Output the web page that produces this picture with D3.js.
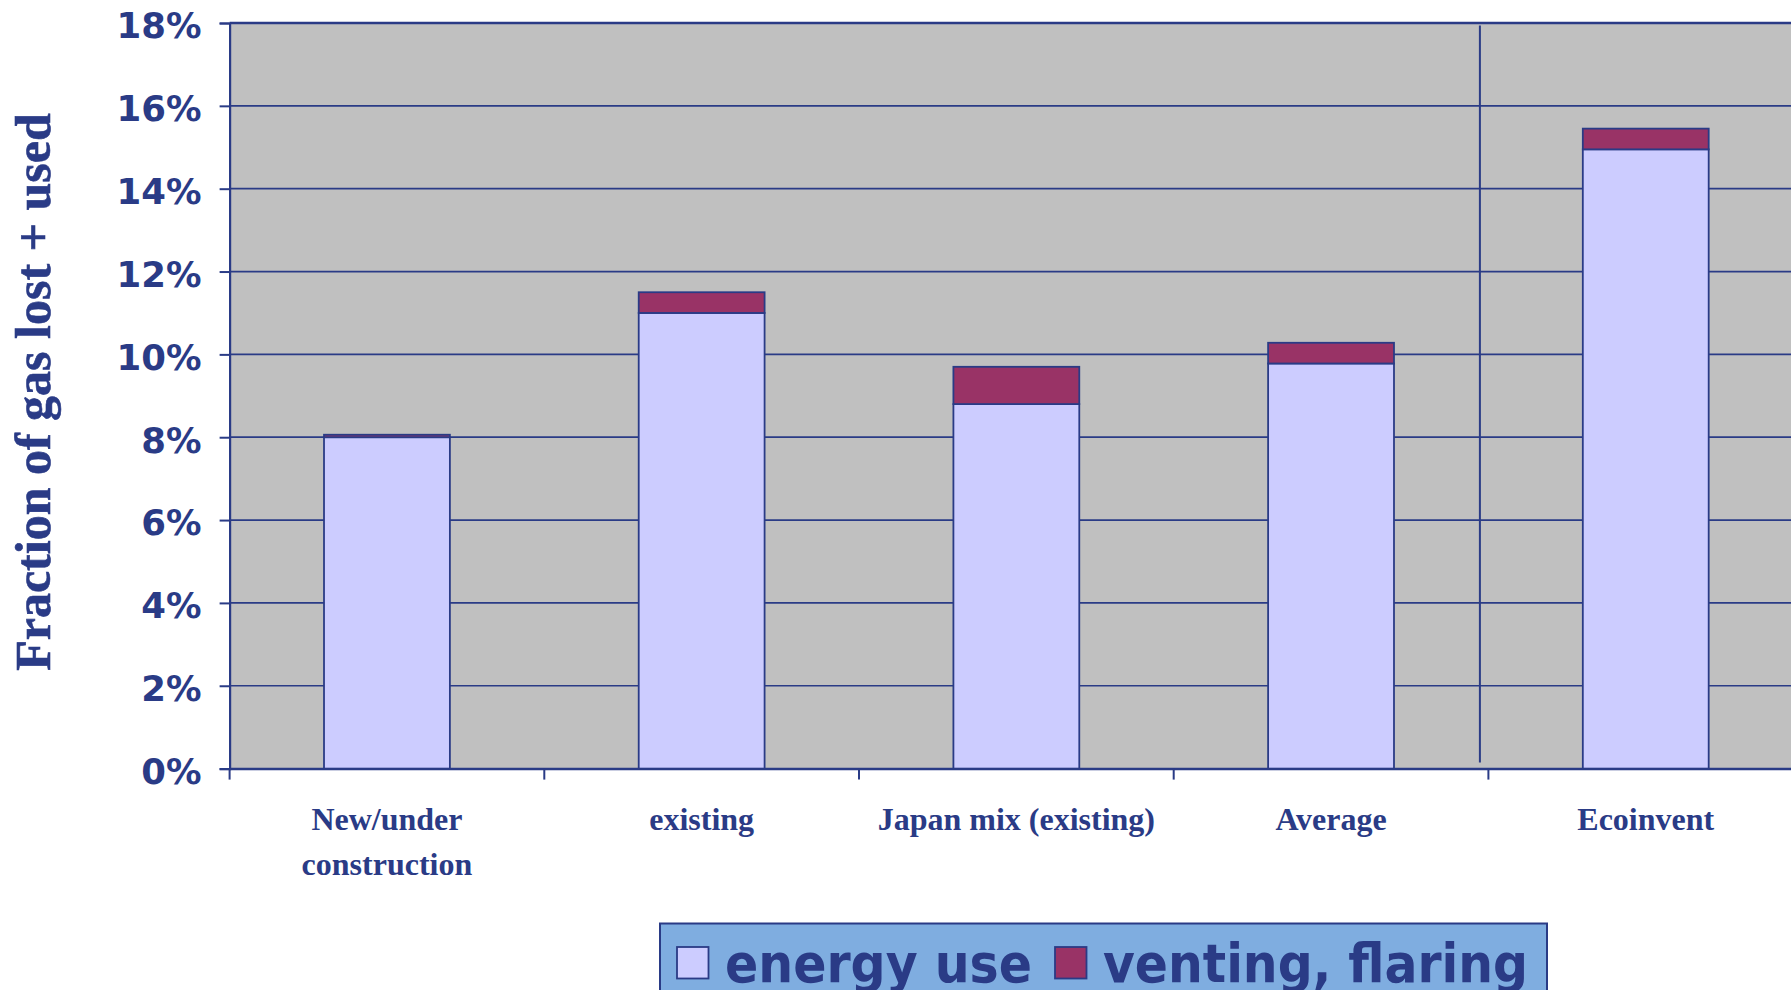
<!DOCTYPE html>
<html>
<head>
<meta charset="utf-8">
<script src="https://cdn.jsdelivr.net/npm/d3@7/dist/d3.min.js"></script>
<style>
  html, body { margin: 0; padding: 0; background: #ffffff; overflow: hidden; }
  svg { display: block; }
</style>
</head>
<body>
<svg id="chart" width="1791" height="990"></svg>
<script>
// ---- data ----
const categories = ["New/under\nconstruction", "existing", "Japan mix (existing)", "Average", "Ecoinvent"];
const energyUse = [8.0, 11.0, 8.8, 9.78, 14.95];
const ventingFlaring = [0.06, 0.5, 0.9, 0.5, 0.5];
const seriesNames = ["energy use", "venting, flaring"];
const yTicks = [0, 2, 4, 6, 8, 10, 12, 14, 16, 18];
const yTitle = "Fraction of gas lost + used";

// ---- styles ----
const navy = "#2a3b86";
const plotBg = "#c0c0c0";
const colors = ["#ccccff", "#993366"];
const legendBg = "#7fade0";

const plotLeft = 229.6, plotTop = 23, plotBottom = 768.6, bandW = 314.7;
const plotRight = plotLeft + categories.length * bandW;

const svg = d3.select("#chart");

const x = d3.scaleBand().domain(categories).range([plotLeft, plotRight]).padding(0);
const y = d3.scaleLinear().domain([0, 18]).range([plotBottom, plotTop]);

// plot background
svg.append("rect")
  .attr("x", plotLeft).attr("y", y(18))
  .attr("width", plotRight - plotLeft).attr("height", y(0) - y(18))
  .attr("fill", plotBg);

// gridlines
svg.append("g").selectAll("line").data(yTicks).join("line")
  .attr("x1", plotLeft).attr("x2", plotRight)
  .attr("y1", d => y(d)).attr("y2", d => y(d))
  .attr("stroke", navy)
  .attr("stroke-width", d => d === 18 ? 2.6 : 1.7);

// vertical separator before the last category
const sepX = x(categories[4]) - 8.5;
svg.append("line")
  .attr("x1", sepX).attr("x2", sepX)
  .attr("y1", y(18) + 2.5).attr("y2", y(0) - 6)
  .attr("stroke", navy).attr("stroke-width", 2);

// stacked bars
const stackData = categories.map((c, i) => ({ cat: c, e: energyUse[i], v: ventingFlaring[i] }));
const stacked = d3.stack().keys(["e", "v"])(stackData);
const barW = x.bandwidth() * 0.4;
svg.append("g").selectAll("g").data(stacked).join("g")
  .attr("fill", (d, i) => colors[i])
  .selectAll("rect").data(d => d).join("rect")
  .attr("x", d => x(d.data.cat) + (x.bandwidth() - barW) / 2)
  .attr("y", d => y(d[1]))
  .attr("width", barW)
  .attr("height", d => y(d[0]) - y(d[1]))
  .attr("stroke", navy).attr("stroke-width", 1.8);

// y axis
const yAxis = d3.axisLeft(y).tickValues(yTicks).tickSize(10).tickPadding(18)
  .tickFormat(d => d + "%");
const gy = svg.append("g").attr("transform", `translate(${plotLeft},0)`).call(yAxis);
gy.select(".domain").attr("stroke", navy).attr("stroke-width", 2.2);
gy.selectAll(".tick line").attr("stroke", navy).attr("stroke-width", 2);
gy.selectAll(".tick text")
  .attr("fill", navy)
  .attr("font-family", "'DejaVu Sans', Verdana, sans-serif")
  .attr("font-weight", "bold")
  .attr("font-size", 35.5)
  .attr("dy", "0.42em");

// x axis
const xAxis = d3.axisBottom(x).tickSize(0).tickFormat("");
const gx = svg.append("g").attr("transform", `translate(0,${plotBottom})`).call(xAxis);
gx.select(".domain").attr("stroke", navy).attr("stroke-width", 2.2);
// boundary ticks
const boundaries = categories.map(c => x(c)).concat([plotRight]);
svg.append("g").selectAll("line").data(boundaries).join("line")
  .attr("x1", d => d).attr("x2", d => d)
  .attr("y1", plotBottom).attr("y2", plotBottom + 11)
  .attr("stroke", navy).attr("stroke-width", 2);

// category labels
const lbl = svg.append("g").selectAll("text").data(categories).join("text")
  .attr("x", d => x(d) + x.bandwidth() / 2)
  .attr("y", 830)
  .attr("text-anchor", "middle")
  .attr("fill", navy)
  .attr("font-family", "'Liberation Serif', 'Times New Roman', serif")
  .attr("font-weight", "bold")
  .attr("font-size", 32);
lbl.selectAll("tspan").data(d => d.split("\n").map(t => ({ t, c: d }))).join("tspan")
  .attr("x", d => x(d.c) + x.bandwidth() / 2)
  .attr("dy", (d, i) => i === 0 ? 0 : 44.5)
  .text(d => d.t);

// y title
svg.append("text")
  .attr("transform", `translate(50,392) rotate(-90)`)
  .attr("text-anchor", "middle")
  .attr("fill", navy)
  .attr("font-family", "'Liberation Serif', 'Times New Roman', serif")
  .attr("font-weight", "bold")
  .attr("font-size", 50)
  .attr("stroke", navy).attr("stroke-width", 0.6)
  .text(yTitle);

// legend
const lg = svg.append("g");
lg.append("rect")
  .attr("x", 660).attr("y", 923.5)
  .attr("width", 887).attr("height", 100)
  .attr("fill", legendBg).attr("stroke", navy).attr("stroke-width", 2);
const legendItems = [
  { name: seriesNames[0], color: colors[0], sx: 677, tx: 725, tw: 307 },
  { name: seriesNames[1], color: colors[1], sx: 1055, tx: 1103, tw: 425 }
];
legendItems.forEach(it => {
  lg.append("rect")
    .attr("x", it.sx).attr("y", 947)
    .attr("width", 31.5).attr("height", 31.5)
    .attr("fill", it.color).attr("stroke", navy).attr("stroke-width", 1.8);
  lg.append("text")
    .attr("x", it.tx).attr("y", 982)
    .attr("fill", navy)
    .attr("font-family", "'DejaVu Sans', Verdana, sans-serif")
    .attr("font-weight", "bold")
    .attr("font-size", 54)
    .attr("textLength", it.tw)
    .attr("lengthAdjust", "spacingAndGlyphs")
    .text(it.name);
});
</script>
</body>
</html>
